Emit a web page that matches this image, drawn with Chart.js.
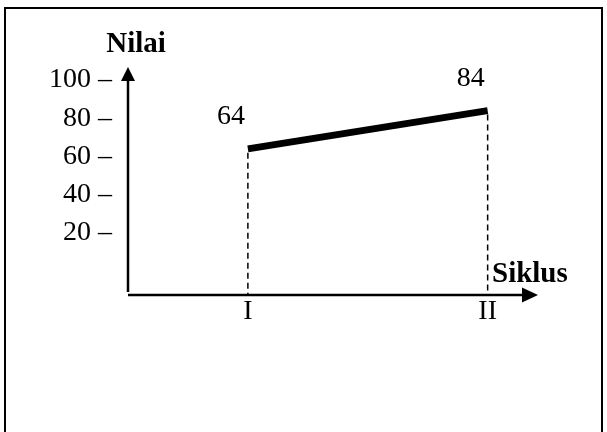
<!DOCTYPE html>
<html>
<head>
<meta charset="utf-8">
<script src="https://cdn.jsdelivr.net/npm/chart.js@4/dist/chart.umd.min.js"></script>
<style>
  html, body { margin: 0; padding: 0; background: #fff; overflow: hidden; }
  #wrap { position: relative; width: 607px; height: 432px; overflow: hidden; }
  #frame { position: absolute; left: 4px; top: 7px; width: 595px; height: 500px; border: 2px solid #000; border-bottom: none; }
  canvas { position: absolute; left: 0; top: 0; }
</style>
</head>
<body>
<div id="wrap">
  <div id="frame"></div>
  <canvas id="chart" width="607" height="432"></canvas>
</div>
<script>
  const siklus = ["I", "II"];
  const siklusPos = [1, 2];
  const nilai = [64, 84];
  const yTicks = [20, 40, 60, 80, 100];
  const yTickLabels = ["20 –", "40 –", "60 –", "80 –", "100 –"];
  const yTitle = "Nilai";
  const xTitle = "Siklus";

  const SERIF = "'Liberation Serif', 'Times New Roman', serif";
  Chart.defaults.font.family = SERIF;
  Chart.defaults.font.size = 28;
  Chart.defaults.color = "#000";

  // drop lines under the data line
  const dropLines = {
    id: "dropLines",
    beforeDatasetsDraw(chart) {
      const ctx = chart.ctx;
      const base = chart.scales.y.bottom;
      ctx.save();
      ctx.strokeStyle = "#000";
      ctx.lineWidth = 1.5;
      ctx.setLineDash([6, 4]);
      chart.getDatasetMeta(0).data.forEach(function (pt) {
        ctx.beginPath();
        ctx.moveTo(pt.x, pt.y + 4);
        ctx.lineTo(pt.x, base);
        ctx.stroke();
      });
      ctx.restore();
    }
  };

  // arrow axes, titles and value labels
  const arrowAxes = {
    id: "arrowAxes",
    afterDatasetsDraw(chart) {
      const ctx = chart.ctx;
      const xs = chart.scales.x, ys = chart.scales.y;
      const x0 = xs.left, y0 = ys.bottom;
      const xTip = xs.right, yTip = ys.top;
      ctx.save();
      ctx.strokeStyle = "#000";
      ctx.fillStyle = "#000";
      ctx.lineWidth = 2.5;

      ctx.beginPath();
      ctx.moveTo(x0, y0 - 3);
      ctx.lineTo(x0, yTip + 12);
      ctx.stroke();
      ctx.beginPath();
      ctx.moveTo(x0, yTip);
      ctx.lineTo(x0 - 7, yTip + 14);
      ctx.lineTo(x0 + 7, yTip + 14);
      ctx.closePath();
      ctx.fill();

      ctx.beginPath();
      ctx.moveTo(x0, y0);
      ctx.lineTo(xTip - 12, y0);
      ctx.stroke();
      ctx.beginPath();
      ctx.moveTo(xTip, y0);
      ctx.lineTo(xTip - 16, y0 - 7.5);
      ctx.lineTo(xTip - 16, y0 + 7.5);
      ctx.closePath();
      ctx.fill();

      ctx.font = "bold 29px " + SERIF;
      ctx.textBaseline = "alphabetic";
      ctx.textAlign = "center";
      ctx.fillText(yTitle, x0 + 8, yTip - 15);
      ctx.textAlign = "left";
      ctx.fillText(xTitle, xTip - 46, y0 - 13);

      ctx.font = "28px " + SERIF;
      ctx.textAlign = "center";
      ctx.textBaseline = "middle";
      chart.getDatasetMeta(0).data.forEach(function (pt, i) {
        ctx.fillText(String(nilai[i]), pt.x - 17, pt.y - 32);
      });
      ctx.restore();
    }
  };

  new Chart(document.getElementById("chart"), {
    type: "line",
    data: {
      datasets: [{
        data: siklusPos.map(function (x, i) { return { x: x, y: nilai[i] }; }),
        borderColor: "#000",
        borderWidth: 7,
        borderCapStyle: "butt",
        pointRadius: 0,
        tension: 0
      }]
    },
    options: {
      responsive: false,
      animation: false,
      devicePixelRatio: 1,
      layout: { padding: { left: 0, top: 67, right: 69, bottom: 0 } },
      plugins: { legend: { display: false }, tooltip: { enabled: false } },
      scales: {
        x: {
          type: "linear",
          min: 0.5,
          max: 2.21,
          grid: { display: false, drawTicks: false },
          border: { display: false },
          afterFit: function (s) { s.height = 137; },
          afterBuildTicks: function (s) {
            s.ticks = siklusPos.map(function (v) { return { value: v }; });
          },
          ticks: {
            padding: 0,
            maxRotation: 0,
            callback: function (v, i) { return siklus[i]; }
          }
        },
        y: {
          type: "linear",
          min: -12.4,
          max: 106.8,
          grid: { display: false, drawTicks: false },
          border: { display: false },
          afterFit: function (s) { s.width = 128; },
          afterBuildTicks: function (s) {
            s.ticks = yTicks.map(function (v) { return { value: v }; });
          },
          ticks: {
            padding: 16,
            callback: function (v, i) { return yTickLabels[i]; }
          }
        }
      }
    },
    plugins: [dropLines, arrowAxes]
  });
</script>
</body>
</html>
